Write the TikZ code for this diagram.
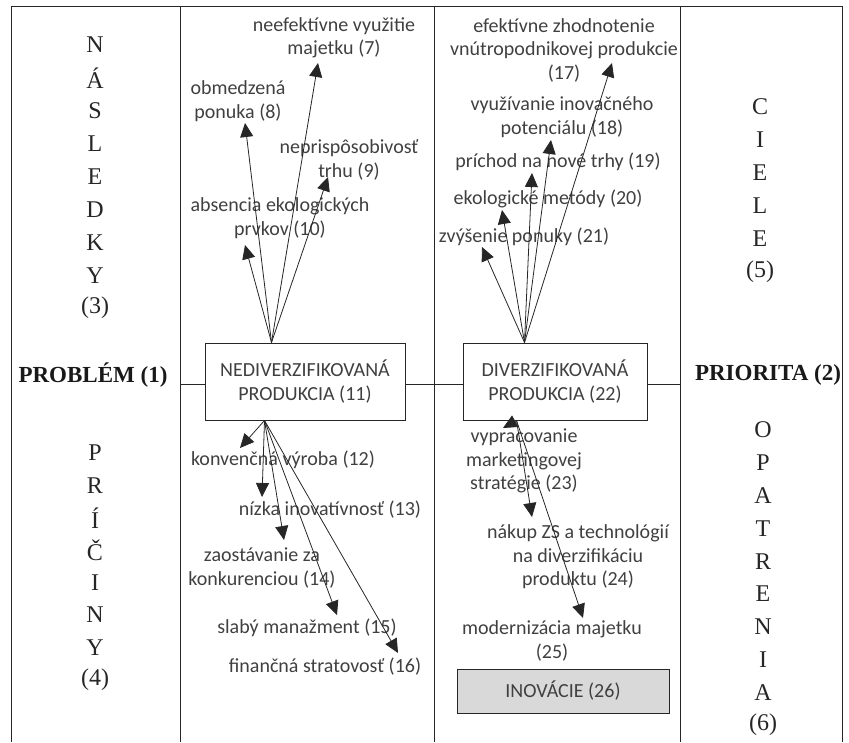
\documentclass[tikz,border=0pt]{standalone}
\usepackage{fontspec}
\setmainfont{Liberation Serif}
\newfontfamily\calib{Carlito}
\usetikzlibrary{arrows.meta,calc}
\definecolor{txt}{HTML}{404040}
\definecolor{ln}{HTML}{262626}
\begin{document}
\begin{tikzpicture}[x=1pt,y=-1pt,
  lab/.style={font=\calib\fontsize{20}{23.5}\selectfont, text=txt, align=center, inner sep=0pt},
  vert/.style={font=\fontsize{24}{28}\selectfont, text=black!85, inner sep=0pt},
  headlab/.style={font=\bfseries\fontsize{23}{26}\selectfont, text=black!90, inner sep=0pt},
  box/.style={draw=ln, line width=1pt, fill=white, align=center, font=\calib\fontsize{20}{23.5}\selectfont, text=txt, inner sep=0pt},
  arr/.style={-{Triangle[length=14pt,width=13pt]}, line width=0.8pt, draw=ln},
  frame/.style={draw=ln, line width=1pt}]
\useasboundingbox (0,0) rectangle (849,742);
% frame
\draw[frame] (11,742) -- (11,6) -- (842,6) -- (842,742);
\draw[frame] (180,6) -- (180,742);
\draw[frame] (434,6) -- (434,742);
\draw[frame] (680,6) -- (680,742);
% boxes
\node[box, minimum width=200pt, minimum height=77pt] (b11) at (305,381.5) {NEDIVERZIFIKOVANÁ\\PRODUKCIA (11)};
\node[box, minimum width=184pt, minimum height=77pt] (b22) at (555,381.5) {DIVERZIFIKOVANÁ\\PRODUKCIA (22)};
\node[box, fill=black!15, minimum width=212pt, minimum height=44pt] (b26) at (563,691) {INOVÁCIE (26)};
% horizontal line
\coordinate (hl) at (180,384);
\coordinate (hr) at (680,384);
\draw[frame] (hl) -- (hl -| b11.west);
\draw[frame] (hl -| b11.east) -- (hl -| b22.west);
\draw[frame] (hl -| b22.east) -- (hr);
% side headings
\node[headlab] (p1) at (93,375) {PROBLÉM (1)};
\node[headlab] (p2) at (768,375) {PRIORITA (2)};
\foreach \t [count=\i] in {N,Á,S,L,E,D,K,Y,(3)}
  \node[vert] (nas\i) at (95,{45+32.9*(\i-1)}) {\t};
\foreach \t [count=\i] in {P,R,Í,Č,I,N,Y,(4)}
  \node[vert] (pri\i) at (95,{453+32.4*(\i-1)}) {\t};
\foreach \t [count=\i] in {C,I,E,L,E,(5)}
  \node[vert] (cie\i) at (760,{107+33*(\i-1)}) {\t};
\foreach \t [count=\i] in {O,P,A,T,R,E,N,I,A,(6)}
  \node[vert] (opa\i) at (763,{430+32.8*(\i-1)}) {\t};
% labels
\node[lab] (l7) at (334,38) {neefektívne využitie\\majetku (7)};
\node[lab] (l8) at (238,101) {obmedzená\\ponuka (8)};
\node[lab] (l9) at (349,160) {neprispôsobivosť\\trhu (9)};
\node[lab] (l10) at (280,218) {absencia ekologických\\prvkov (10)};
\node[lab] (l17) at (564,50) {efektívne zhodnotenie\\vnútropodnikovej produkcie\\(17)};
\node[lab] (l18) at (562,117) {využívanie inovačného\\potenciálu (18)};
\node[lab] (l19) at (558,162) {príchod na nové trhy (19)};
\node[lab] (l20) at (548,199) {ekologické metódy (20)};
\node[lab] (l21) at (524,237) {zvýšenie ponuky (21)};
\node[lab] (l12) at (283,460) {konvenčná výroba (12)};
\node[lab] (l13) at (330,510) {nízka inovatívnosť (13)};
\node[lab] (l14) at (262,568) {zaostávanie za\\konkurenciou (14)};
\node[lab] (l15) at (307,628) {slabý manažment (15)};
\node[lab] (l16) at (325,667) {finančná stratovosť (16)};
\node[lab] (l23) at (524,461) {vypracovanie\\marketingovej\\stratégie (23)};
\node[lab] (l24) at (578,557) {nákup ZS a technológií\\na diverzifikáciu\\produktu (24)};
\node[lab] (l25) at (552,641) {modernizácia majetku\\(25)};
% arrow origins
\coordinate (o11t) at ([xshift=67pt]b11.north west);
\coordinate (o22t) at ([xshift=62pt]b22.north west);
\coordinate (o11b) at ([xshift=60pt]b11.south west);
\coordinate (o22b) at ([xshift=54pt]b22.south west);
% arrow tips
\coordinate (t7) at (318,63);
\coordinate (t8) at (245,123);
\coordinate (t9) at (328,177);
\coordinate (t10) at (245,245);
\coordinate (t17) at (612,63);
\coordinate (t18) at (551,140);
\coordinate (t19) at (532,173);
\coordinate (t20) at (502,210);
\coordinate (t21) at (482,247);
\coordinate (t12) at (240,448);
\coordinate (t13) at (262,497);
\coordinate (t14) at (284,540);
\coordinate (t15) at (337,615);
\coordinate (t16) at (398,653);
\coordinate (t23) at (503,428);
\coordinate (t24) at (532,517);
\coordinate (t25) at (583,618);
% arrows
\foreach \k in {7,8,9,10} \draw[arr] (o11t) -- (t\k);
\foreach \k in {17,18,19,20,21} \draw[arr] (o22t) -- (t\k);
\foreach \k in {12,13,14,15,16} \draw[arr] (o11b) -- (t\k);
\foreach \k in {23,24,25} \draw[arr] (o22b) -- (t\k);
\end{tikzpicture}
\end{document}
